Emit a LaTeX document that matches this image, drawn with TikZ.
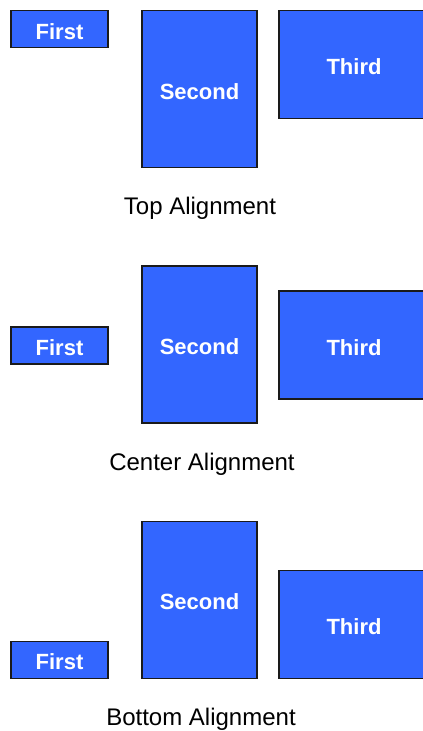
\documentclass[tikz,border=0pt]{standalone}
\usepackage{fontspec}
\setmainfont{Liberation Sans}
\usetikzlibrary{positioning}

\definecolor{boxblue}{HTML}{3366FF}
\definecolor{boxedge}{HTML}{1A1A1A}

\begin{document}
\begin{tikzpicture}[
  x=1pt, y=-1pt,
  box/.style={draw=boxedge, line width=1.2pt, fill=boxblue, text=white, inner sep=0pt,
    text height=20pt, text depth=0pt, font=\fontsize{22}{26}\selectfont\bfseries},
  small/.style={box, minimum width=97pt, minimum height=37pt},
  tall/.style={box, minimum width=115pt, minimum height=157pt},
  wide/.style={box, minimum width=150pt, minimum height=108pt},
  caption/.style={font=\fontsize{24}{28}\selectfont, inner sep=0pt},
]
  \useasboundingbox (0,0) rectangle (423,731);
  \clip (0,0) rectangle (423,731);

  % Top alignment
  \node[small, anchor=north] (firstT)  at (59.5,10)  {First};
  \node[tall,  anchor=north] (secondT) at (199.5,10) {Second};
  \node[wide,  anchor=north] (thirdT)  at (354,10)   {Third};
  \node[caption] (capT) at (200,208) {Top Alignment};

  % Center alignment
  \node[small] (firstC)  at (59.5,345.5) {First};
  \node[tall]  (secondC) at (199.5,344.5) {Second};
  \node[wide]  (thirdC)  at (354,345)    {Third};
  \node[caption] (capC) at (202,464) {Center Alignment};

  % Bottom alignment
  \node[small, anchor=south] (firstB)  at (59.5,679)  {First};
  \node[tall,  anchor=south] (secondB) at (199.5,679) {Second};
  \node[wide,  anchor=south] (thirdB)  at (354,679)   {Third};
  \node[caption] (capB) at (201,719) {Bottom Alignment};
\end{tikzpicture}
\end{document}
